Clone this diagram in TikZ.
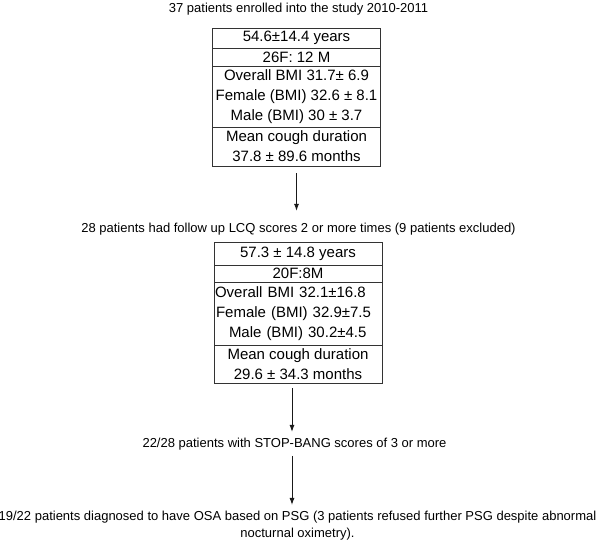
\documentclass[tikz,border=0pt]{standalone}
\usepackage{fontspec}
\setmainfont{Liberation Sans}
\usetikzlibrary{arrows.meta}
\begin{document}
\begin{tikzpicture}[x=1pt,y=-1pt,
  outertext/.style={inner sep=0pt, font=\fontsize{13}{17}\selectfont, text=black, align=center},
  rowbox/.style={draw=black!80, line width=0.8pt, outer sep=0pt, minimum width=168pt, inner xsep=1pt, inner ysep=0pt,
                 font=\fontsize{15}{20}\selectfont, text=black, align=center, anchor=north},
  arr/.style={draw=black!90, line width=0.9pt, -{Latex[length=7pt,width=5pt]}}]
\useasboundingbox (0,0) rectangle (600,542);

% title
\node[outertext, anchor=base] (t1) at (298.5,12) {37 patients enrolled into the study 2010-2011};

% box 1
\node[rowbox, minimum height=20pt] (b1a) at (296.5,28) {54.6±14.4 years};
\node[rowbox, minimum height=18pt] (b1b) at (b1a.south) {26F: 12 M};
\node[rowbox, minimum height=61pt] (b1c) at (b1b.south) {Overall BMI 31.7± 6.9\\Female (BMI) 32.6 ± 8.1\\Male (BMI) 30 ± 3.7};
\node[rowbox, minimum height=39pt] (b1d) at (b1c.south) {Mean cough duration\\37.8 ± 89.6 months};

% second text
\node[outertext, anchor=base] (t2) at (298.5,232) {28 patients had follow up LCQ scores 2 or more times (9 patients excluded)};

% box 2
\node[rowbox, minimum height=23pt] (b2a) at (298,242) {57.3 ± 14.8 years};
\node[rowbox, minimum height=17pt] (b2b) at (b2a.south) {20F:8M};
\node[rowbox, minimum height=63pt, align=left, text width=166pt] (b2c) at (b2b.south)
  {Overall BMI 32.1±16.8\\\hspace*{1pt}Female (BMI) 32.9±7.5\\\hspace*{14pt}Male (BMI) 30.2±4.5};
\node[rowbox, minimum height=38pt] (b2d) at (b2c.south) {Mean cough duration\\29.6 ± 34.3 months};

% third text
\node[outertext, anchor=base] (t3) at (294.5,447.5) {22/28 patients with STOP-BANG scores of 3 or more};

% fourth text
\node[outertext] (t4) at (297.5,525.2) {19/22 patients diagnosed to have OSA based on PSG (3 patients refused further PSG despite abnormal\\nocturnal oximetry).};

% arrows
\draw[arr, shorten <=7pt, shorten >=11.5pt] (b1d.south) -- (b1d.south |- t2.north);
\draw[arr, shorten <=5pt, shorten >=6pt] ([xshift=-6pt]b2d.south) -- ([xshift=-6pt]b2d.south |- t3.north);
\draw[arr, shorten <=5.5pt, shorten >=5.5pt] ([xshift=-2.5pt]t3.south) -- ([xshift=-2.5pt]t3.south |- t4.north);
\end{tikzpicture}
\end{document}
